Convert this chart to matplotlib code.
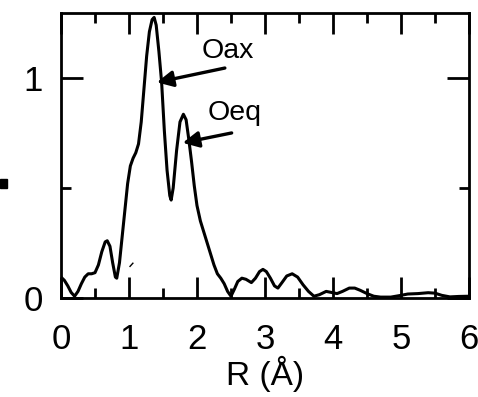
import matplotlib
matplotlib.use('Agg')
import matplotlib.pyplot as plt
from matplotlib.ticker import MultipleLocator

plt.rcParams['font.family'] = ['Liberation Sans', 'DejaVu Sans']

# FT magnitude
r_vals = [0.00, 0.05, 0.10, 0.15, 0.20, 0.25, 0.30, 0.35, 0.40, 0.45, 0.50,
          0.55, 0.60, 0.65, 0.68, 0.72, 0.76, 0.80, 0.82, 0.86, 0.90, 0.94,
          0.98, 1.02, 1.06, 1.10, 1.14, 1.18, 1.22, 1.26, 1.30, 1.34, 1.37,
          1.40, 1.44, 1.48, 1.52, 1.56, 1.60, 1.62, 1.65, 1.70, 1.75, 1.80,
          1.84, 1.88, 1.92, 1.96, 2.00, 2.05, 2.10, 2.15, 2.20, 2.25, 2.30,
          2.35, 2.40, 2.45, 2.50, 2.55, 2.60, 2.66, 2.72, 2.80, 2.86, 2.92,
          2.97, 3.02, 3.08, 3.14, 3.19, 3.25, 3.32, 3.40, 3.48, 3.56, 3.64,
          3.72, 3.80, 3.90, 3.98, 4.06, 4.14, 4.24, 4.32, 4.40, 4.50, 4.60,
          4.70, 4.85, 5.00, 5.10, 5.25, 5.40, 5.50, 5.60, 5.72, 5.85, 6.00]
ft_vals = [0.095, 0.080, 0.055, 0.025, 0.008, 0.030, 0.065, 0.095, 0.110, 0.110, 0.115,
           0.150, 0.210, 0.255, 0.260, 0.235, 0.160, 0.095, 0.090, 0.160, 0.280, 0.400,
           0.520, 0.600, 0.635, 0.660, 0.700, 0.800, 0.950, 1.100, 1.210, 1.265, 1.275,
           1.240, 1.120, 0.980, 0.760, 0.580, 0.465, 0.445, 0.500, 0.670, 0.800, 0.835,
           0.810, 0.720, 0.620, 0.510, 0.420, 0.350, 0.300, 0.250, 0.200, 0.150, 0.110,
           0.090, 0.065, 0.030, 0.008, 0.040, 0.075, 0.090, 0.085, 0.070, 0.090, 0.120,
           0.130, 0.120, 0.090, 0.055, 0.045, 0.070, 0.100, 0.110, 0.095, 0.060, 0.030,
           0.008, 0.015, 0.030, 0.025, 0.020, 0.030, 0.045, 0.045, 0.035, 0.020, 0.008,
           0.004, 0.004, 0.012, 0.018, 0.020, 0.024, 0.022, 0.012, 0.005, 0.007, 0.008]

x_ticks = [0, 1, 2, 3, 4, 5, 6]
y_ticks = [0, 1]

fig = plt.figure(figsize=(4.78, 3.97), dpi=100)
ax = fig.add_axes([0.1276, 0.2494, 0.8535, 0.7178])

ax.plot(r_vals, ft_vals, color='black', lw=2.2)

ax.set_xlim(0, 6)
ax.set_ylim(0, 1.295)
ax.set_xticks(x_ticks)
ax.set_yticks(y_ticks)
ax.xaxis.set_minor_locator(MultipleLocator(0.5))
ax.yaxis.set_minor_locator(MultipleLocator(0.5))
ax.tick_params(which='both', direction='in', top=True, right=True, width=2, labelsize=25)
ax.tick_params(axis='x', which='major', length=15, pad=18)
ax.tick_params(axis='y', which='major', length=16, pad=13)
ax.tick_params(which='minor', length=7)
for s in ax.spines.values():
    s.set_linewidth(2)

ax.set_xlabel('R (Å)', fontsize=24, labelpad=0)

# peak labels
arrow = dict(arrowstyle='-|>', color='black', lw=2.4, mutation_scale=24,
             shrinkA=0, shrinkB=0)
ax.annotate('', xy=(1.41, 0.98), xytext=(2.41, 1.045), arrowprops=arrow)
ax.text(2.07, 1.09, 'Oax', fontsize=20.5, va='baseline')
ax.annotate('', xy=(1.79, 0.705), xytext=(2.51, 0.75), arrowprops=arrow)
ax.text(2.15, 0.81, 'Oeq', fontsize=20.5, va='baseline')

# stray marks in the original scan
fig.patches.append(plt.Rectangle((0, 0.527), 0.015, 0.022, transform=fig.transFigure,
                                 color='black'))
fig.add_artist(plt.Line2D([0.272, 0.278], [0.329, 0.337], transform=fig.transFigure,
                          color='black', lw=1))

fig.savefig('out.png', dpi=100)
